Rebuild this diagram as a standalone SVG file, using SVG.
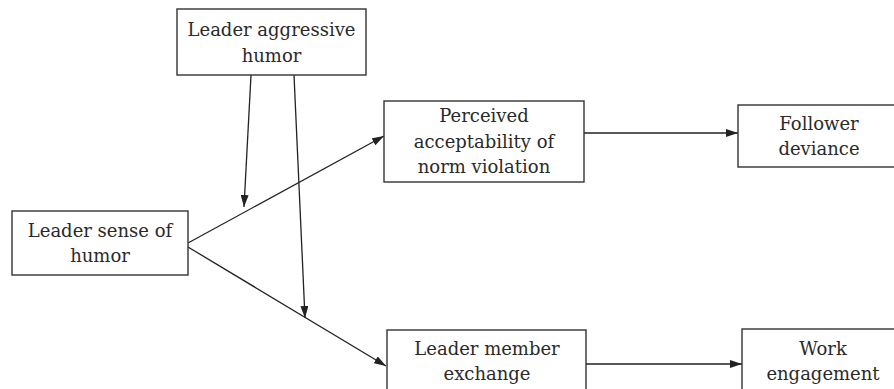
<svg xmlns="http://www.w3.org/2000/svg" width="894" height="389" viewBox="0 0 894 389">
<style>
.box{fill:#fff;stroke:#333;stroke-width:1.4}
.t{font-family:"DejaVu Serif","Liberation Serif",serif;font-size:18px;fill:#2a2a2a;text-anchor:middle}
.c{stroke:#222;stroke-width:1.3;fill:none;marker-end:url(#ah)}
</style>
<defs>
<marker id="ah" viewBox="0 0 12 8" refX="12" refY="4" markerWidth="12" markerHeight="8" markerUnits="userSpaceOnUse" orient="auto">
<path d="M0,0 L12,4 L0,8 Z" fill="#222"/>
</marker>
</defs>
<rect width="894" height="389" fill="#fff"/>
<g id="connectors">
<line class="c" x1="251" y1="75" x2="244" y2="207"/>
<line class="c" x1="294" y1="75" x2="305" y2="318"/>
<line class="c" x1="188" y1="243" x2="384" y2="136"/>
<line class="c" x1="188" y1="247" x2="386" y2="366"/>
<line class="c" x1="584" y1="133" x2="738" y2="133"/>
<line class="c" x1="586" y1="364" x2="742" y2="364"/>
</g>
<g id="aggressive">
<rect class="box" x="177" y="9" width="189" height="66"/>
<text class="t" x="271.5" y="36">Leader aggressive</text>
<text class="t" x="271.5" y="62">humor</text>
</g>
<g id="sense">
<rect class="box" x="12" y="211" width="176" height="64"/>
<text class="t" x="100" y="237">Leader sense of</text>
<text class="t" x="100" y="262">humor</text>
</g>
<g id="perceived">
<rect class="box" x="384" y="101" width="200" height="81"/>
<text class="t" x="484" y="122">Perceived</text>
<text class="t" x="484" y="148">acceptability of</text>
<text class="t" x="484" y="173">norm violation</text>
</g>
<g id="deviance">
<rect class="box" x="738" y="105" width="162" height="62"/>
<text class="t" x="819" y="130">Follower</text>
<text class="t" x="819" y="155">deviance</text>
</g>
<g id="lmx">
<rect class="box" x="387" y="330" width="199" height="70"/>
<text class="t" x="487" y="355">Leader member</text>
<text class="t" x="487" y="380">exchange</text>
</g>
<g id="engagement">
<rect class="box" x="742" y="329" width="163" height="70"/>
<text class="t" x="823" y="355">Work</text>
<text class="t" x="823" y="380">engagement</text>
</g>
</svg>
